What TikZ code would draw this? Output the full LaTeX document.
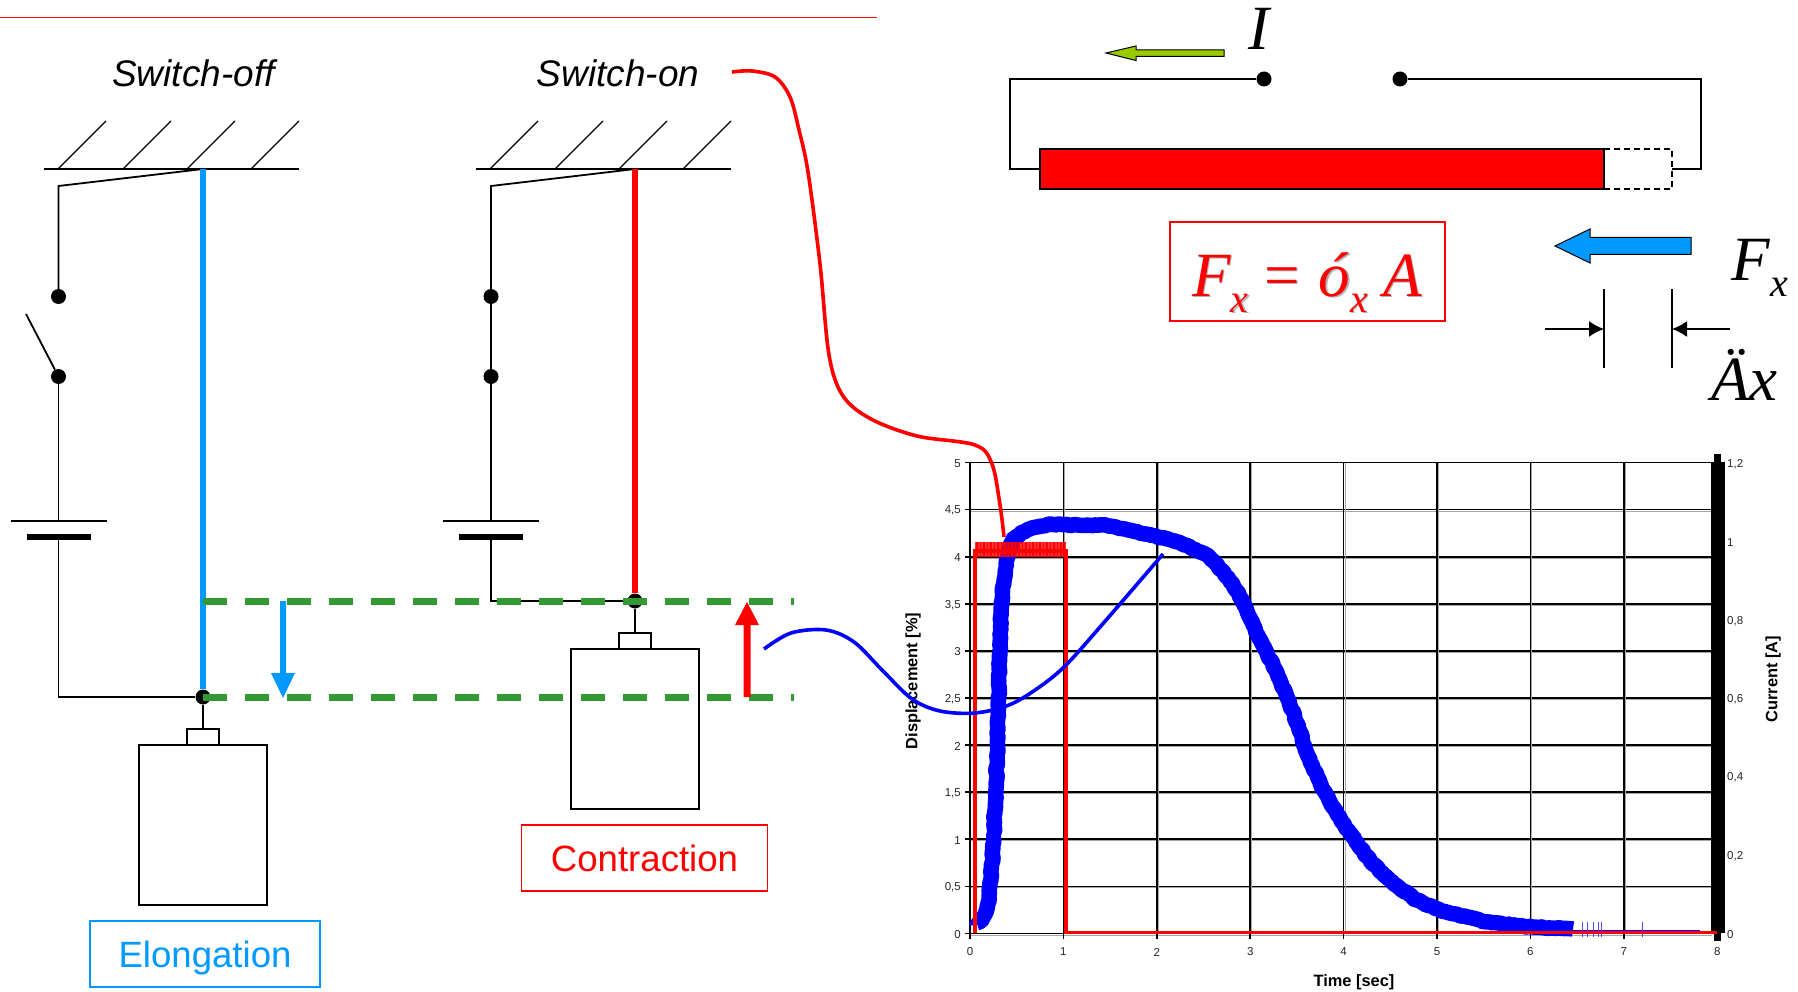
\documentclass[tikz,border=0pt]{standalone}
\usepackage{fontspec}
\setmainfont{Liberation Sans}
\newfontfamily\timesit[ItalicFont=* Italic]{Liberation Serif}
\usetikzlibrary{arrows.meta,decorations.pathmorphing}
\definecolor{skyb}{HTML}{0099FF}
\definecolor{grn}{HTML}{339933}
\definecolor{lime}{HTML}{99CC00}
\newcommand{\fs}[1]{\fontsize{#1}{#1}\selectfont}
\newcommand{\formula}{\timesit\itshape\fs{63}F\raisebox{-16pt}{\fs{40}x}\hspace{12pt}=\hspace{16pt}ó\raisebox{-16pt}{\fs{40}x}\hspace{15pt}A}
\tikzset{
  x=1pt,y=-1pt,
  wire/.style={draw=black,line width=1.8pt,line join=miter},
  dotn/.style={circle,fill=black,inner sep=0pt,minimum size=15pt},
  hatchl/.style={draw=black,line width=1.4pt},
  boxw/.style={draw=black,line width=1.8pt,fill=white},
  lab/.style={font=\fs{37},inner sep=0pt,anchor=base},
  labbox/.style={line width=1.8pt,fill=white,text height=26.5pt,text depth=0pt},
  gdash/.style={draw=grn,line width=7pt,dash pattern=on 24pt off 18pt},
  bigit/.style={font=\timesit\itshape\fs{63},inner sep=0pt,anchor=base west},
  subit/.style={font=\timesit\itshape\fs{40},inner sep=0pt,anchor=base west},
  tick/.style={font=\fs{11.5},inner sep=0pt,text=black!85},
  axt/.style={font=\bfseries\fs{16.4},inner sep=0pt},
  gridk/.style={draw=black,line width=1.7pt},
  grids/.style={draw=black!35,line width=.8pt},
  blockarrow/.style={draw=black,line width=1pt},
}
\begin{document}
\begin{tikzpicture}
\useasboundingbox (0,0) rectangle (1798,992);
\fill[white] (0,0) rectangle (1798,992);
% top rule
\coordinate (ra) at (0,17.5); \coordinate (rb) at (877,17.5);
\draw[red,line width=1.8pt] (ra) -- (rb);

% ---- chart grid
\foreach \i in {0,...,9}{
  \pgfmathsetmacro{\yy}{933.5-47.1*\i}
  \draw[grids] (971,\yy+1.4) -- (1712,\yy+1.4);
  \draw[gridk] (965,\yy) -- (1712,\yy);
}
\draw[gridk] (965,462.5) -- (1717,462.5);
\foreach \i in {1,...,7}{
  \pgfmathsetmacro{\xx}{970+93.4*\i}
  \draw[grids] (\xx+1.4,463) -- (\xx+1.4,933);
  \draw[gridk] (\xx,463) -- (\xx,939);
}
\draw[gridk] (970,462) -- (970,939);
\draw[gridk] (1717,933) -- (1717,939);
\fill[black] (1711,462) rectangle (1725,933);
\fill[black] (1714,454) rectangle (1721,462);
\fill[black] (1714,933) rectangle (1721,941);
% chart tick labels
\foreach \t [count=\i from 0] in {{0},{0,5},{1},{1,5},{2},{2,5},{3},{3,5},{4},{4,5},{5}}{
  \pgfmathsetmacro{\yy}{934.5-47.1*\i}
  \node[tick,anchor=east] (yl\i) at (961,\yy) {\t};
}
\foreach \i in {0,...,8}{
  \pgfmathsetmacro{\xx}{970+93.4*\i}
  \node[tick] (xl\i) at (\xx,952) {\i};
}
\foreach \t [count=\i from 0] in {{0},{0,2},{0,4},{0,6},{0,8},{1},{1,2}}{
  \pgfmathsetmacro{\yy}{934.5-78.4*\i}
  \node[tick,anchor=west] (rl\i) at (1727,\yy) {\t};
}
\node[axt,rotate=90] (ylab) at (913,681) {Displacement [\%]};
\node[axt,rotate=90] (rlab) at (1773,679) {Current [A]};
\node[axt] (xlab) at (1354,982) {Time [sec]};

% ---- blue data curve
\pgfmathsetseed{7}
\draw[blue,line width=15.5pt,line join=bevel,line cap=butt,decorate,decoration={random steps,segment length=2.5pt,amplitude=.8pt}] plot[smooth,tension=0.45] coordinates {
 (977,925) (985,915) (989,898) (992,863) (995,810) (997,757) (999,686) (1001,616) (1004,581) (1008,556)
 (1013,540) (1027,530) (1047,525) (1073,525) (1110,526) (1140,533) (1167,539) (1190,547) (1210,558)
 (1227,577) (1243,602) (1257,634) (1273,665) (1287,697) (1300,732) (1307,753) (1320,783) (1333,807)
 (1350,833) (1370,860) (1393,883) (1417,900) (1440,910) (1467,917) (1490,922) (1533,927) (1573,929)};
\draw[blue,line width=2.5pt] (1573,931) -- (1700,931);
\foreach \xx in {1582,1587,1593,1598,1601,1642}{
  \draw[blue!70,line width=.7pt] (\xx,922) -- (\xx,937);
}
% ---- red current signal
\fill[red,opacity=.8] (975,542) rectangle (1066,557);
\foreach \xx in {977,980.5,...,1065}{
  \draw[red,line width=1.3pt] (\xx,542) -- (\xx,557);
}
\draw[red,line width=3.6pt] (975,932.5) -- (975,551) -- (1066,551) -- (1066,932.5) -- (1717,932.5);

% ---- connectors from callouts
\node[lab] (swoff) at (193.5,87) {\itshape Switch-off};
\node[lab] (swon) at (618,87) {\itshape Switch-on};
\coordinate (redend) at (1004,537);
\coordinate (bluestart) at (764,649);
\coordinate (blueend) at (1163,554);
\draw[red,line width=3.6pt] plot[smooth,tension=0.55] coordinates {
 (732,72) (752,71) (775,77) (790,97) (799,130) (808,172) (820,264) (829,355) (843,396) (871,419) (917,436) (975,445) (992,464) (1000,505) (redend)};
\draw[blue,line width=3.6pt] plot[smooth,tension=0.55] coordinates {
 (bluestart) (791,633) (826,630) (854,642) (883,671) (912,699) (940,711) (975,713) (1009,705) (1038,688) (1066,665) (1107,619) (blueend)};

% ---- left circuit (switch off)
\draw[hatchl] (44,169) -- (299,169);
\foreach \a in {58,123,187,251}{ \draw[hatchl] (\a,169) -- (\a+48,121); }
\coordinate (lt) at (203,169);
\node[dotn] (la) at (58.5,296.5) {};
\node[dotn] (lb) at (58.5,376.5) {};
\coordinate (lsw) at (26,314);
\draw[wire] (lt) -- (58.5,186) -- (la);
\draw[wire] (lsw) -- (lb);
\coordinate (lbt) at (58.5,521);
\draw[wire] (lb) -- (lbt);
\draw[wire] (11,521) -- (107,521);
\fill[black] (27,534) rectangle (91,540);
\node[dotn] (lc) at (203,697) {};
\draw[wire] (58.5,540) -- (58.5,697) -- (lc);
\draw[skyb,line width=5.5pt] (lt) -- (lc);
\node[boxw,minimum width=32pt,minimum height=16pt,inner sep=0pt] (lsm) at (203,737) {};
\node[boxw,minimum width=128pt,minimum height=160pt,inner sep=0pt] (lbig) at (203,825) {};
\draw[wire] (lc) -- (lsm);
\node[labbox,draw=skyb,minimum width=230pt,minimum height=66pt,inner sep=0pt,text=skyb,font=\fs{36.6}] (elong) at (205,954) {Elongation};

% ---- right circuit (switch on)
\draw[hatchl] (476,169) -- (731,169);
\foreach \a in {490,555,619,683}{ \draw[hatchl] (\a,169) -- (\a+48,121); }
\coordinate (rt) at (635,169);
\node[dotn] (ra2) at (491,296.5) {};
\node[dotn] (rb2) at (491,376.5) {};
\draw[wire] (rt) -- (491,186) -- (ra2) -- (rb2);
\draw[wire] (rb2) -- (491,521);
\draw[wire] (443,521) -- (539,521);
\fill[black] (459,534) rectangle (523,540);
\node[dotn] (rc) at (635,601) {};
\draw[wire] (491,540) -- (491,601) -- (rc);
\draw[red,line width=5.5pt] (rt) -- (rc);
\node[boxw,minimum width=32pt,minimum height=16pt,inner sep=0pt] (rsm) at (635,641) {};
\node[boxw,minimum width=128pt,minimum height=160pt,inner sep=0pt] (rbig) at (635,729) {};
\draw[wire] (rc) -- (rsm);
\node[labbox,draw=red,minimum width=246pt,minimum height=66pt,inner sep=0pt,text=red,font=\fs{36.6}] (contr) at (644.5,858) {Contraction};

% ---- displacement levels
\coordinate (g1a) at (203,601); \coordinate (g1b) at (794,601);
\coordinate (g2a) at (203,697); \coordinate (g2b) at (794,697);
\draw[gdash] (g1a) -- (g1b);
\draw[gdash] (g2a) -- (g2b);
\fill[skyb] (280,601) -- (286,601) -- (286,673) -- (295,673) -- (283,698) -- (271,673) -- (280,673) -- cycle;
\fill[red] (743.5,697) -- (750.5,697) -- (750.5,625) -- (759,625) -- (747,602) -- (735,625) -- (743.5,625) -- cycle;

% ---- top right: rod
\node[dotn] (ca) at (1264,79) {};
\node[dotn] (cb) at (1400,79) {};
\node[draw=black,fill=red,line width=1.8pt,minimum width=564pt,minimum height=40pt,inner sep=0pt] (rod) at (1322,169) {};
\draw[black,line width=1.4pt,dash pattern=on 6pt off 4pt] (1604,149) -- (1672,149) -- (1672,189) -- (1604,189);
\coordinate (rodr) at (1672,169);
\draw[wire] (ca) -- (1010,79) -- (1010,169) -- (rod.west);
\draw[wire] (cb) -- (1701,79) -- (1701,169) -- (rodr);
\draw[blockarrow,fill=lime] (1224,50) -- (1136,50) -- (1136,46) -- (1106,53) -- (1136,60.5) -- (1136,56.5) -- (1224,56.5) -- cycle;
\node[bigit] (ilab) at (1248,50) {I};

% ---- formula
\node[draw=red,line width=1.4pt,minimum width=275pt,minimum height=99pt,inner sep=0pt] (fbox) at (1307.5,271.5) {};
\node[inner sep=0pt,anchor=base west,text=black!30] (fshadow) at (1193.5,297.5) {\formula};
\node[inner sep=0pt,anchor=base west,text=red] (form) at (1192,296) {\formula};

% ---- force arrow and delta
\draw[blockarrow,fill=skyb] (1691,237.5) -- (1590,237.5) -- (1590,229) -- (1555,246) -- (1590,263) -- (1590,254.5) -- (1691,254.5) -- cycle;
\node[bigit] (fx) at (1731,280) {F};
\node[subit] (fxs) at (1770,296) {x};
\coordinate (da) at (1604,289); \coordinate (db) at (1604,368);
\coordinate (dc) at (1672,289); \coordinate (dd) at (1672,368);
\draw[black,line width=1.3pt] (da) -- (db);
\draw[black,line width=1.3pt] (dc) -- (dd);
\coordinate (ea) at (1545,329); \coordinate (eb) at (1730,329);
\draw[black,line width=1.8pt,-{Latex[length=15pt,width=16pt]}] (ea) -- (1604,329);
\draw[black,line width=1.8pt,-{Latex[length=15pt,width=16pt]}] (eb) -- (1672,329);
\node[bigit] (dx) at (1711,400) {Äx};
\end{tikzpicture}
\end{document}
